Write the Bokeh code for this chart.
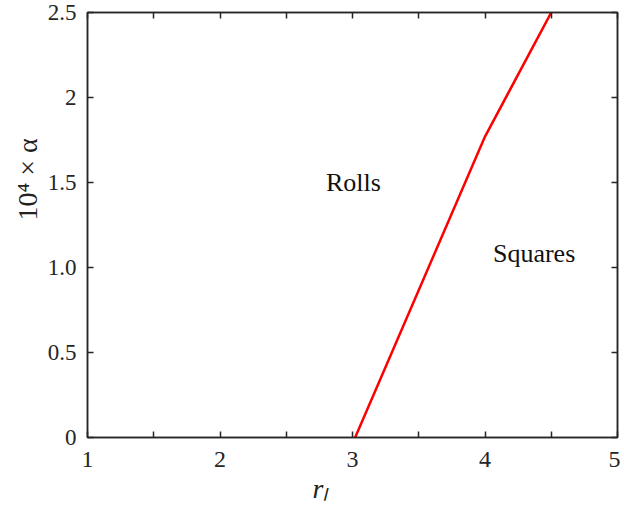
from bokeh.plotting import figure
from bokeh.models import FixedTicker, LinearAxis, Range1d, Label, Title
from bokeh.embed import file_html
from bokeh.resources import INLINE

# data
r_l = [3.02, 4.0, 4.5]
alpha_1e4 = [0.0, 1.77, 2.5]
x_ticks = [1, 1.5, 2, 2.5, 3, 3.5, 4, 4.5, 5]
x_tick_labels = ["1", "", "2", "", "3", "", "4", "", "5"]
y_ticks = [0, 0.5, 1.0, 1.5, 2.0, 2.5]
y_tick_labels = ["0", "0.5", "1.0", "1.5", "2", "2.5"]
region_names = ["Rolls", "Squares"]
region_x = [2.8, 4.06]
region_y = [1.5, 1.08]

FONT = "Liberation Serif"
AX = "#262626"

p = figure(width=620, height=506, output_backend="svg", toolbar_location=None,
           x_range=Range1d(1, 5), y_range=Range1d(0, 2.5),
           min_border_left=87, min_border_right=3, min_border_top=12, min_border_bottom=69,
           x_axis_type=None, y_axis_type=None)
p.grid.visible = False
p.outline_line_color = AX
p.outline_line_width = 1.5
p.background_fill_color = "white"

def style(ax, ticks, labels, show, size="24px"):
    ax.ticker = FixedTicker(ticks=ticks)
    ax.major_label_overrides = {t: (l if show else "") for t, l in zip(ticks, labels)}
    ax.major_tick_in = 6
    ax.major_tick_out = 0
    ax.minor_tick_in = 0
    ax.minor_tick_out = 0
    ax.axis_line_color = AX
    ax.axis_line_width = 1.5
    ax.major_tick_line_color = AX
    ax.major_tick_line_width = 1.5
    ax.major_label_text_font = FONT
    ax.major_label_text_font_size = size if show else "0px"
    ax.major_label_text_color = AX
    if not show:
        ax.major_label_standoff = 0

xb = LinearAxis(); style(xb, x_ticks, x_tick_labels, True); xb.major_label_standoff = 14
yl = LinearAxis(); style(yl, y_ticks, y_tick_labels, True, "23px"); yl.major_label_standoff = 11
xt = LinearAxis(); style(xt, x_ticks, x_tick_labels, False)
yr = LinearAxis(); style(yr, y_ticks, y_tick_labels, False)
p.add_layout(xb, "below")
p.add_layout(yl, "left")
p.add_layout(xt, "above")
p.add_layout(yr, "right")

p.line(r_l, alpha_1e4, line_color="#ff0000", line_width=2.5)

for name, x, y in zip(region_names, region_x, region_y):
    p.add_layout(Label(x=x, y=y, text=name, text_font=FONT, text_font_size="26px",
                       text_baseline="middle", text_align="left", text_color="#111111"))

# axis labels as titles (offset to match reference placement)
p.add_layout(Title(text="rₗ", align="left", offset=225, text_font=FONT,
                   text_font_style="italic", text_font_size="28px", text_color="#222222",
                   standoff=2), "below")
p.add_layout(Title(text="10⁴ × α", align="left", offset=217, text_font=FONT,
                   text_font_style="normal", text_font_size="28px", text_color="#222222",
                   standoff=4), "left")

open("out.html", "w").write(file_html(p, INLINE))
